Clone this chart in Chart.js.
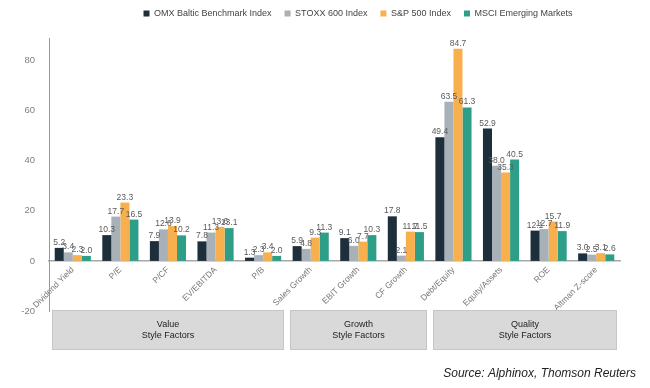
<!DOCTYPE html>
<html>
<head>
<meta charset="utf-8">
<script src="https://cdn.jsdelivr.net/npm/chart.js@4/dist/chart.umd.min.js"></script>
<style>
html,body{margin:0;padding:0;background:#ffffff;}
#wrap{width:650px;height:388px;position:relative;}
</style>
</head>
<body>
<div id="wrap"><canvas id="c" width="650" height="388"></canvas></div>
<script>
// ---- data ----
const categories = ['Dividend Yield', 'P/E', 'P/CF', 'EV/EBITDA', 'P/B', 'Sales Growth', 'EBIT Growth', 'CF Growth', 'Debt/Equity', 'Equity/Assets', 'ROE', 'Altman Z-score'];
const seriesNames = ['OMX Baltic Benchmark Index', 'STOXX 600 Index', 'S&P 500 Index', 'MSCI Emerging Markets'];
const omxBaltic = [5.2, 10.3, 7.9, 7.8, 1.3, 5.9, 9.1, 17.8, 49.4, 52.9, 12.1, 3.0];
const stoxx600  = [3.4, 17.7, 12.6, 11.3, 2.3, 4.8, 6.0, 2.1, 63.5, 38.0, 12.7, 2.5];
const sp500     = [2.3, 23.3, 13.9, 13.6, 3.4, 9.3, 7.7, 11.7, 84.7, 35.3, 15.7, 3.1];
const msciEM    = [2.0, 16.5, 10.2, 13.1, 2.0, 11.3, 10.3, 11.5, 61.3, 40.5, 11.9, 2.6];
const yTicks = [-20, 0, 20, 40, 60, 80];
const groupNames = [['Value', 'Style Factors'], ['Growth', 'Style Factors'], ['Quality', 'Style Factors']];
const groupRanges = [[0, 4], [5, 7], [8, 11]];
const sourceText = 'Source: Alphinox, Thomson Reuters';

// ---- styles ----
const FONT = "'Liberation Sans', Arial, sans-serif";
const colors = ['#1e2f3c', '#a8b0b8', '#f8b04f', '#2f9e88'];
Chart.defaults.font.family = FONT;

const legendTweak = {
  id: 'legendTweak',
  beforeInit(chart) {
    const lg = chart.legend;
    if (!lg) return;
    const fit = lg.fit.bind(lg);
    lg.fit = function () { fit(); this.height = 38; };
  },
  afterLayout(chart) {
    const lg = chart.legend;
    if (!lg) return;
    lg.left += 48; lg.right += 48;
    lg.top -= 4; lg.bottom -= 4;
  }
};

const valueLabels = {
  id: 'valueLabels',
  afterDatasetsDraw(chart) {
    const ctx = chart.ctx;
    ctx.save();
    ctx.font = '8.5px ' + FONT;
    ctx.fillStyle = '#5a5a5a';
    ctx.textAlign = 'center';
    ctx.textBaseline = 'bottom';
    chart.data.datasets.forEach((ds, i) => {
      const meta = chart.getDatasetMeta(i);
      meta.data.forEach((bar, j) => {
        ctx.fillText(ds.data[j].toFixed(1), bar.x, bar.y - 1);
      });
    });
    ctx.restore();
  }
};

const groupBoxes = {
  id: 'groupBoxes',
  afterDraw(chart) {
    const ctx = chart.ctx;
    const xs = chart.scales.x;
    const half = (xs.getPixelForValue(1) - xs.getPixelForValue(0)) / 2;
    const top = chart.chartArea.bottom - 1;
    const h = 40;
    ctx.save();
    groupRanges.forEach(([a, b], k) => {
      const l = Math.round(xs.getPixelForValue(a) - half + 3);
      const r = Math.round(xs.getPixelForValue(b) + half - 3);
      ctx.fillStyle = '#d9d9d9';
      ctx.fillRect(l, top, r - l, h);
      ctx.strokeStyle = '#c6c6c6';
      ctx.lineWidth = 1;
      ctx.strokeRect(l + 0.5, top + 0.5, r - l - 1, h - 1);
      ctx.fillStyle = '#222';
      ctx.font = '9px ' + FONT;
      ctx.textAlign = 'center';
      ctx.textBaseline = 'middle';
      const cx = (l + r) / 2, cy = top + h / 2;
      ctx.fillText(groupNames[k][0], cx, cy - 5);
      ctx.fillText(groupNames[k][1], cx, cy + 5.5);
    });
    ctx.font = 'italic 12px ' + FONT;
    ctx.fillStyle = '#222';
    ctx.textAlign = 'right';
    ctx.textBaseline = 'alphabetic';
    ctx.fillText(sourceText, 636, 377);
    ctx.restore();
  }
};

const series = [omxBaltic, stoxx600, sp500, msciEM];

new Chart(document.getElementById('c'), {
  type: 'bar',
  data: {
    labels: categories,
    datasets: series.map((d, i) => ({
      label: seriesNames[i],
      data: d,
      backgroundColor: colors[i],
      borderWidth: 0,
      categoryPercentage: 0.76,
      barPercentage: 1.0
    }))
  },
  options: {
    responsive: false,
    devicePixelRatio: 1,
    animation: false,
    layout: { padding: { left: 0, right: 30, top: 0, bottom: 77 } },
    plugins: {
      legend: {
        position: 'top',
        labels: {
          boxWidth: 6, boxHeight: 6, padding: 13,
          color: '#444',
          font: { size: 9, family: FONT }
        }
      },
      tooltip: { enabled: false }
    },
    scales: {
      x: {
        position: { y: 0 },
        grid: { display: false, drawTicks: false, tickLength: 0 },
        border: { display: true, color: '#a8a8a8', width: 1.5 },
        ticks: {
          minRotation: 45, maxRotation: 45, autoSkip: false,
          color: '#777', font: { size: 8.5 }, padding: 4
        },
        afterFit(s) { s.paddingLeft = 0; s.paddingRight = 0; }
      },
      y: {
        min: -20, max: 89,
        grid: { display: false },
        border: { display: true, color: '#999', width: 1 },
        ticks: { color: '#808080', font: { size: 9.5 }, padding: 6 },
        afterBuildTicks(s) { s.ticks = yTicks.map(v => ({ value: v })); },
        afterFit(s) { s.width = 49; }
      }
    }
  },
  plugins: [legendTweak, valueLabels, groupBoxes]
});
</script>
</body>
</html>
